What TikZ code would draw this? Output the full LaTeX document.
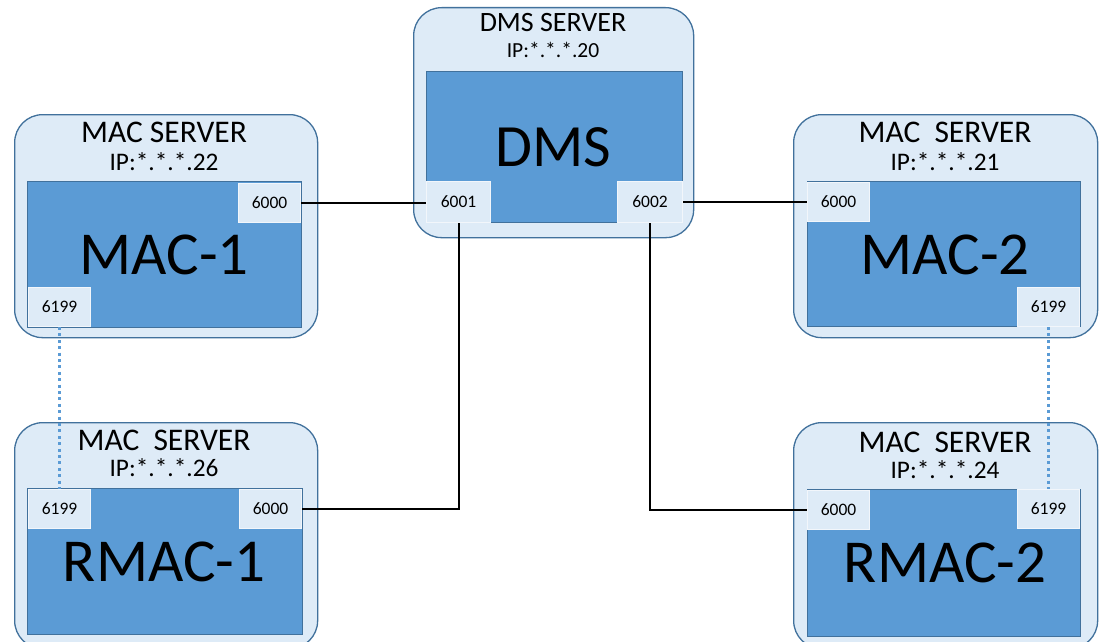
\documentclass[tikz,border=0pt]{standalone}
\usepackage{fontspec}
\setmainfont{Carlito}
\definecolor{outerfill}{HTML}{DEEBF7}
\definecolor{outerline}{HTML}{41719C}
\definecolor{innerfill}{HTML}{5B9BD5}
\definecolor{portline}{HTML}{F2F6FB}
\begin{document}
\begin{tikzpicture}[x=1pt,y=-1pt,
  outerbox/.style={draw=outerline,fill=outerfill,line width=1.3pt,rounded corners=28pt,anchor=north west,inner sep=0pt},
  innerbox/.style={draw=outerline,fill=innerfill,line width=1pt,anchor=north west,inner sep=0pt},
  portbox/.style={draw=portline,fill=outerfill,line width=1pt,anchor=north west,inner sep=0pt,minimum width=62pt,minimum height=39pt,font=\fontsize{17.5}{17.5}\selectfont},
  titletext/.style={inner sep=0pt,font=\fontsize{31.5}{31.5}\selectfont},
  iptext/.style={inner sep=0pt,font=\fontsize{25.3}{25.3}\selectfont},
  bigtext/.style={inner sep=0pt,font=\fontsize{61}{61}\selectfont},
  link/.style={draw=black,line width=2pt},
  dotlink/.style={draw=innerfill,line width=3pt,dash pattern=on 3pt off 3.4pt}
]
\clip (0,0) rectangle (1103,642);
\fill[white] (0,0) rectangle (1103,642);

% DMS server
\node[outerbox,minimum width=280pt,minimum height=230pt] (dmso) at (413,7) {};
\node[innerbox,minimum width=256pt,minimum height=151pt] (dmsi) at (426,71) {};
\node[titletext,font=\fontsize{28}{28}\selectfont] (dmst) at (553,23) {DMS SERVER};
\node[iptext,font=\fontsize{21.5}{21.5}\selectfont] (dmsip) at (553,50) {IP:*.*.*.20};
\node[bigtext,font=\fontsize{60}{60}\selectfont] (dmsb) at (553,147) {DMS};
\node[portbox,minimum width=64pt,minimum height=41pt] (dp1) at (426,181) {6001};
\node[portbox,minimum width=65pt,minimum height=41pt] (dp2) at (617,181) {6002};

% MAC-1
\node[outerbox,minimum width=303pt,minimum height=223pt] (m1o) at (14,114) {};
\node[innerbox,minimum width=274pt,minimum height=146pt] (m1i) at (27,181) {};
\node[titletext] (m1t) at (164,132) {MAC SERVER};
\node[iptext] (m1ip) at (164,162) {IP:*.*.*.22};
\node[bigtext] (m1b) at (164,255) {MAC-1};
\node[portbox] (m1p0) at (238,183) {6000};
\node[portbox] (m1p9) at (28,287) {6199};

% MAC-2
\node[outerbox,minimum width=304pt,minimum height=223pt] (m2o) at (793,114) {};
\node[innerbox,minimum width=273pt,minimum height=145pt] (m2i) at (807,181) {};
\node[titletext] (m2t) at (945,132) {MAC\ \ SERVER};
\node[iptext] (m2ip) at (945,162) {IP:*.*.*.21};
\node[bigtext] (m2b) at (945,255) {MAC-2};
\node[portbox] (m2p0) at (807,182) {6000};
\node[portbox] (m2p9) at (1017,287) {6199};

% RMAC-1
\node[outerbox,minimum width=303pt,minimum height=226pt] (r1o) at (14,422) {};
\node[innerbox,minimum width=275pt,minimum height=146pt] (r1i) at (27,488) {};
\node[titletext] (r1t) at (164,440) {MAC\ \ SERVER};
\node[iptext] (r1ip) at (164,468) {IP:*.*.*.26};
\node[bigtext] (r1b) at (164,562) {RMAC-1};
\node[portbox] (r1p9) at (28,489) {6199};
\node[portbox] (r1p0) at (239,489) {6000};

% RMAC-2
\node[outerbox,minimum width=304pt,minimum height=226pt] (r2o) at (793,422) {};
\node[innerbox,minimum width=273pt,minimum height=147pt] (r2i) at (807,489) {};
\node[titletext] (r2t) at (945,442) {MAC\ \ SERVER};
\node[iptext] (r2ip) at (945,470) {IP:*.*.*.24};
\node[bigtext] (r2b) at (945,563) {RMAC-2};
\node[portbox] (r2p0) at (807,490) {6000};
\node[portbox] (r2p9) at (1017,489) {6199};

% connectors
\draw[link] (m1p0.east) -- (m1p0.east -| dp1.west);
\draw[link] (dp2.east) -- (dp2.east -| m2p0.west);
\draw[link] (dp1.south) |- (r1p0.east);
\draw[link] (dp2.south) |- (r2p0.west);
\draw[dotlink] (m1p9.south) -- (r1p9.north);
\draw[dotlink] (m2p9.south) -- (r2p9.north);
\end{tikzpicture}
\end{document}
